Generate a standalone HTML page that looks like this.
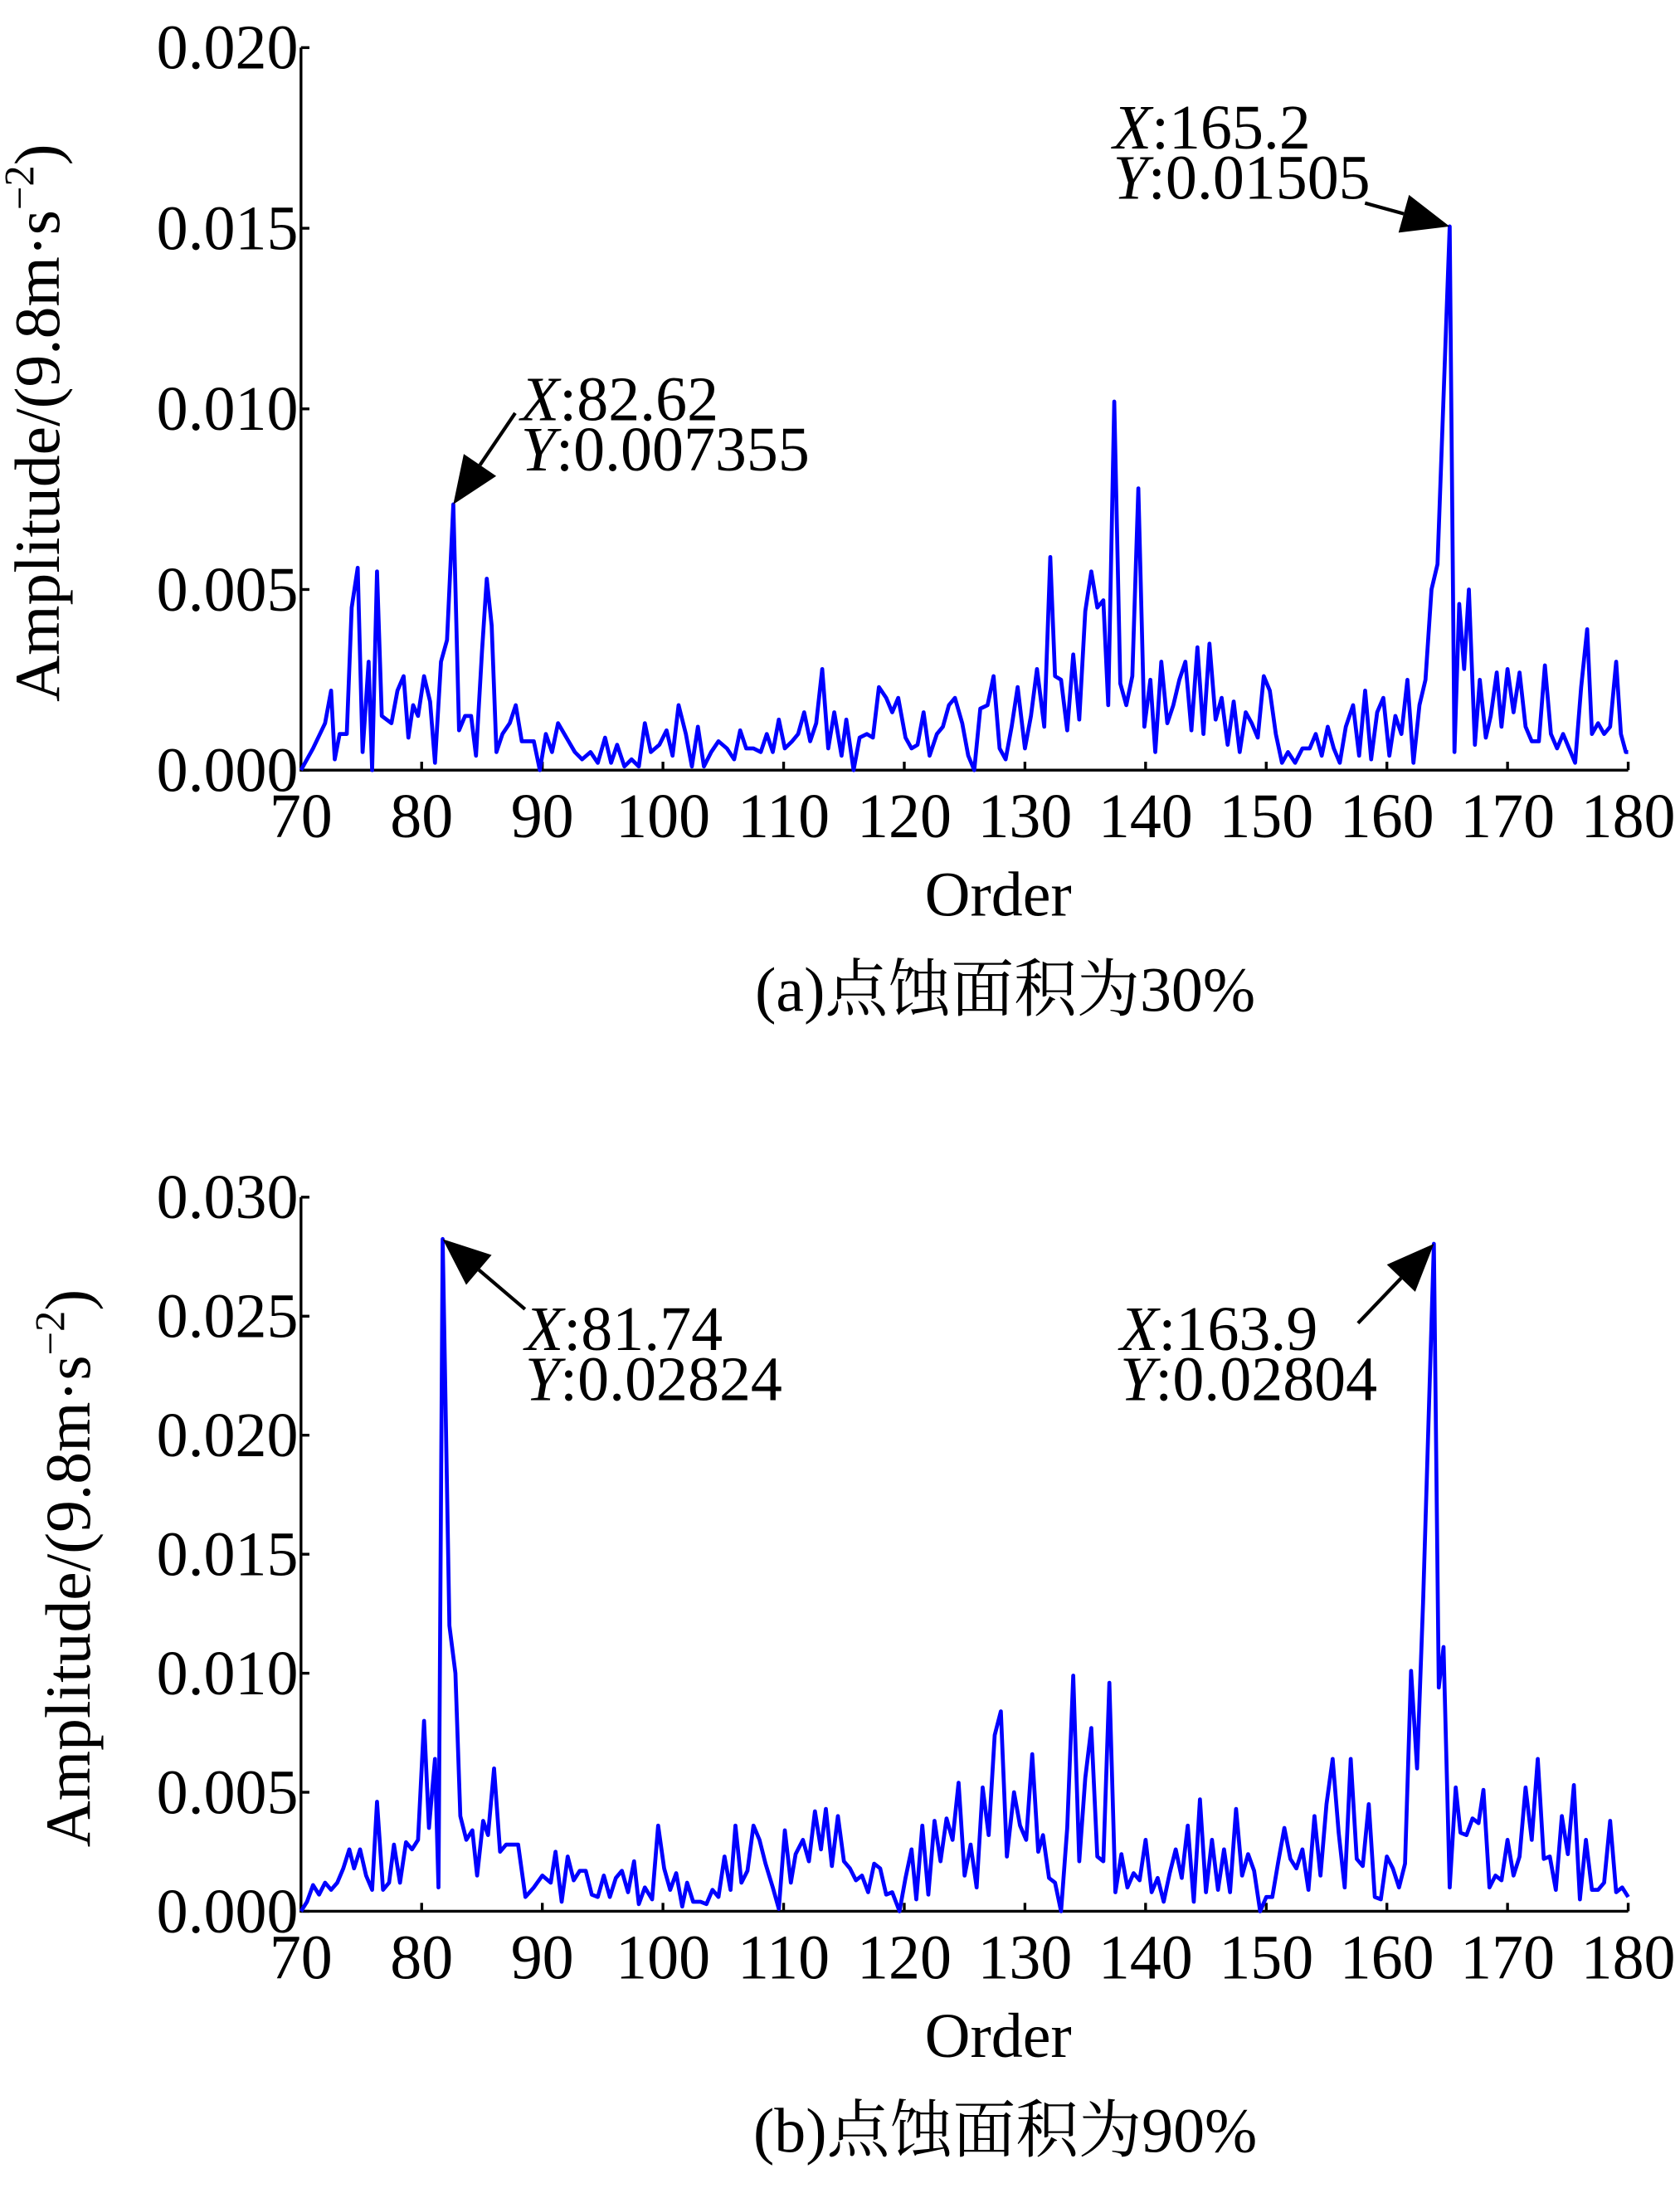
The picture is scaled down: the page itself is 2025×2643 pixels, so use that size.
<!DOCTYPE html>
<html><head><meta charset="utf-8"><style>
html,body{margin:0;padding:0;background:#fff;}
svg{display:block;}
text{font-family:"Liberation Serif","Noto Serif CJK SC",serif;fill:#000;}
</style></head><body>
<svg id="fig" width="2025" height="2643" viewBox="0 0 1200 1566.2" xmlns="http://www.w3.org/2000/svg"></svg>
<script>
// Panel (a) data (amplitude in units of 0.001)
const ordersA=[70,71,72,72.5,72.8,73.2,73.8,74.2,74.7,75.1,75.6,75.9,76.3,76.7,77.5,78,78.5,78.9,79.3,79.7,80.2,80.7,81.1,81.6,82.1,82.62,83.1,83.6,84.1,84.5,85,85.4,85.8,86.2,86.7,87.3,87.8,88.3,88.8,89.3,89.8,90.3,90.8,91.3,92,92.7,93.3,94,94.6,95.2,95.7,96.2,96.8,97.4,98,98.5,99,99.7,100.3,100.8,101.3,101.9,102.4,102.9,103.4,104,104.6,105.3,105.9,106.4,106.9,107.5,108.1,108.6,109.1,109.6,110.1,110.7,111.2,111.7,112.2,112.7,113.2,113.7,114.2,114.8,115.2,115.8,116.3,116.9,117.4,117.9,118.5,119,119.5,120.1,120.6,121.1,121.6,122.1,122.7,123.2,123.7,124.2,124.8,125.3,125.8,126.3,126.9,127.4,127.9,128.4,128.9,129.4,130,130.5,131,131.6,132.1,132.5,133,133.5,134,134.5,135,135.5,136,136.5,136.9,137.4,137.9,138.4,138.9,139.4,139.9,140.4,140.8,141.3,141.8,142.3,142.8,143.3,143.8,144.3,144.8,145.3,145.8,146.3,146.8,147.3,147.8,148.3,148.8,149.3,149.8,150.3,150.8,151.3,151.8,152.4,153,153.6,154.1,154.6,155.1,155.6,156.1,156.6,157.2,157.7,158.2,158.7,159.2,159.7,160.2,160.7,161.2,161.7,162.2,162.7,163.2,163.7,164.2,165.2,165.6,166,166.4,166.8,167.3,167.7,168.2,168.6,169.1,169.5,170,170.5,171,171.5,172,172.6,173.1,173.6,174.1,174.6,175.1,175.6,176.1,176.6,177,177.5,178,178.5,179,179.4,179.8,180];
const ampsA=[0,0.6,1.3,2.2,0.3,1.0,1.0,4.5,5.6,0.5,3.0,0,5.5,1.5,1.3,2.2,2.6,0.9,1.8,1.5,2.6,1.9,0.2,3.0,3.6,7.355,1.1,1.5,1.5,0.4,3.3,5.3,4.0,0.5,1.0,1.3,1.8,0.8,0.8,0.8,0,1.0,0.5,1.3,0.9,0.5,0.3,0.5,0.2,0.9,0.2,0.7,0.1,0.3,0.1,1.3,0.5,0.7,1.1,0.4,1.8,1.0,0.1,1.2,0.1,0.5,0.8,0.6,0.3,1.1,0.6,0.6,0.5,1.0,0.5,1.4,0.6,0.8,1.0,1.6,0.8,1.3,2.8,0.6,1.6,0.4,1.4,0,0.9,1.0,0.9,2.3,2.0,1.6,2.0,0.9,0.6,0.7,1.6,0.4,1.0,1.2,1.8,2.0,1.3,0.4,0,1.7,1.8,2.6,0.6,0.3,1.2,2.3,0.6,1.5,2.8,1.2,5.9,2.6,2.5,1.1,3.2,1.4,4.4,5.5,4.5,4.7,1.8,10.2,2.4,1.8,2.6,7.8,1.2,2.5,0.5,3.0,1.3,1.8,2.5,3.0,1.1,3.4,1.0,3.5,1.4,2.0,0.7,1.9,0.5,1.6,1.3,0.9,2.6,2.2,1.0,0.2,0.5,0.2,0.6,0.6,1.0,0.4,1.2,0.6,0.2,1.2,1.8,0.4,2.2,0.3,1.6,2.0,0.4,1.5,1.0,2.5,0.2,1.8,2.5,5.0,5.7,15.05,0.5,4.6,2.8,5.0,0.7,2.5,0.9,1.5,2.7,1.2,2.8,1.6,2.7,1.2,0.8,0.8,2.9,1.0,0.6,1.0,0.6,0.2,2.3,3.9,1.0,1.3,1.0,1.2,3.0,1.0,0.5,0.5];
// Panel (b) data
const ordersB=[70,70.5,71,71.5,72,72.5,73,73.5,74,74.4,74.9,75.4,75.9,76.3,76.8,77.3,77.7,78.2,78.7,79.2,79.7,80.2,80.6,81.1,81.4,81.74,82.3,82.8,83.2,83.7,84.2,84.6,85.1,85.5,86,86.5,87,87.5,88,88.6,89.3,90,90.7,91.1,91.6,92.1,92.6,93.1,93.6,94.1,94.6,95.1,95.6,96.1,96.6,97.1,97.6,98,98.5,99.1,99.6,100.1,100.6,101.1,101.6,102,102.5,103.1,103.6,104.1,104.6,105.1,105.6,106,106.5,107,107.5,108,108.5,109.1,109.6,110.1,110.6,111,111.6,112.1,112.6,113.1,113.5,114,114.5,115,115.5,116,116.5,117,117.5,118,118.5,119,119.6,120.1,120.6,121,121.5,122,122.5,123,123.5,124,124.5,125,125.5,126,126.5,127,127.5,128,128.5,129.1,129.6,130.1,130.6,131.1,131.5,132,132.5,133,133.5,134,134.5,135,135.5,136,136.5,137,137.5,138,138.5,139,139.5,140,140.5,141,141.5,142,142.5,143,143.5,144,144.5,145,145.5,146,146.5,147,147.5,148,148.5,149,149.5,150,150.5,151,151.5,152,152.5,153,153.5,154,154.5,155,155.5,156,156.5,157,157.5,158,158.5,159,159.5,160,160.5,161,161.5,162,162.5,163,163.9,164.3,164.7,165.2,165.7,166.1,166.6,167.1,167.6,168,168.5,169,169.5,170,170.5,171,171.5,172,172.5,173,173.5,174,174.5,175,175.5,176,176.5,177,177.5,178,178.5,179,179.5,180];
const ampsB=[0,0.4,1.1,0.7,1.2,0.9,1.2,1.8,2.6,1.8,2.6,1.5,0.9,4.6,0.9,1.2,2.8,1.2,2.9,2.6,3.0,8.0,3.5,6.4,1.0,28.24,12.0,10.0,4.0,3.0,3.4,1.5,3.8,3.2,6.0,2.5,2.8,2.8,2.8,0.6,1.0,1.5,1.2,2.5,0.4,2.3,1.3,1.7,1.7,0.7,0.6,1.5,0.6,1.4,1.7,0.8,2.1,0.3,1.0,0.5,3.6,1.8,0.9,1.6,0.2,1.2,0.4,0.4,0.3,0.9,0.6,2.3,0.9,3.6,1.2,1.7,3.6,3.0,2.0,1.0,0.1,3.4,1.2,2.4,3.0,2.1,4.2,2.6,4.3,1.9,4.0,2.1,1.8,1.3,1.5,0.8,2.0,1.8,0.7,0.8,0,1.4,2.6,0.5,3.6,0.7,3.8,2.1,3.9,3.0,5.4,1.5,2.8,1.0,5.2,3.2,7.4,8.4,2.3,5.0,3.6,3.0,6.6,2.5,3.2,1.4,1.2,0,3.5,9.9,2.1,5.6,7.7,2.3,2.1,9.6,0.8,2.4,1.0,1.6,1.3,3.0,0.8,1.4,0.4,1.6,2.6,1.4,3.6,0.4,4.7,0.8,3.0,0.9,2.6,0.8,4.3,1.5,2.4,1.7,0,0.6,0.6,2.1,3.5,2.2,1.8,2.6,0.9,4.0,1.5,4.5,6.4,3.3,1.0,6.4,2.2,1.9,4.5,0.6,0.5,2.3,1.8,1.0,2.0,10.1,6.0,13,28.04,9.4,11.1,1.0,5.2,3.3,3.2,3.9,3.7,5.1,1.0,1.5,1.3,3.0,1.5,2.3,5.2,3.0,6.4,2.2,2.3,0.9,4.0,2.4,5.3,0.5,3.0,0.9,0.9,1.2,3.8,0.8,1.0,0.6];
const xTicks=[70,80,90,100,110,120,130,140,150,160,170,180];
const yTicksA=[0,0.005,0.010,0.015,0.020];
const yTicksB=[0,0.005,0.010,0.015,0.020,0.025,0.030];

const NS="http://www.w3.org/2000/svg";
const svg=document.getElementById('fig');
function mk(tag,attrs,parent){const e=document.createElementNS(NS,tag);for(const k in attrs)e.setAttribute(k,attrs[k]);(parent||svg).appendChild(e);return e;}

function panel(id,orders,amps,yTicks,yMax,top,bottom,caption,annos,yTitleX){
  const g=mk('g',{});
  
  
  const L=215,R=1163;
  const sx=v=>L+(v-70)/(180-70)*(R-L);
  const sy=v=>bottom-v/yMax*(bottom-top);
  const ax=mk('path',{d:`M${L},${top} L${L},${bottom} L${R},${bottom}`,fill:'none',stroke:'#000','stroke-width':2},g);
  
  
  yTicks.forEach(t=>{
    const y=sy(t);
    mk('line',{x1:L,x2:L+6,y1:y,y2:y,stroke:'#000','stroke-width':2},g);
    const tx=mk('text',{x:L-2,y:y+15,'text-anchor':'end','font-size':45},g);
    tx.textContent=t.toFixed(3);
    
    
  });
  xTicks.forEach(t=>{
    const x=sx(t);
    mk('line',{x1:x,x2:x,y1:bottom,y2:bottom-6,stroke:'#000','stroke-width':2},g);
    const tx=mk('text',{x:x,y:bottom+48,'text-anchor':'middle','font-size':45},g);
    tx.textContent=t;
    
    
  });
  let d='';
  orders.forEach((o,i)=>{d+=(i?'L':'M')+sx(o).toFixed(1)+','+sy(amps[i]*0.001).toFixed(1);});
  const ln=mk('path',{d:d,fill:'none',stroke:'#0000ff','stroke-width':2.8,'stroke-linejoin':'round'},g);
  
  
  const xt=mk('text',{x:713,y:bottom+104,'text-anchor':'middle','font-size':45},g);
  xt.textContent='Order';
  
  
  const yc=(top+bottom)/2+10;
  const yt=mk('text',{x:0,y:0,'text-anchor':'middle','font-size':46,transform:`translate(${yTitleX},${yc}) rotate(-90)`},g);
  yt.innerHTML='Amplitude/(9.8m·s<tspan dy="-18" font-size="30">−2</tspan><tspan dy="18">)</tspan>';
  
  
  const cp=mk('text',{x:718,y:bottom+172,'text-anchor':'middle','font-size':45},g);
  cp.textContent=caption;
  
  
  annos.forEach(a=>{
    const px=sx(a.x),py=sy(a.y);
    const dx=px-a.ax,dy=py-a.ay,len=Math.hypot(dx,dy),ux=dx/len,uy=dy/len;
    const hl=34,hw=14;
    const bx=px-ux*hl,by=py-uy*hl;
    const ag=mk('g',{},g);
    
    
    mk('line',{x1:a.ax,y1:a.ay,x2:bx,y2:by,stroke:'#000','stroke-width':2.5},ag);
    mk('polygon',{points:`${px},${py} ${bx-uy*hw},${by+ux*hw} ${bx+uy*hw},${by-ux*hw}`,fill:'#000'},ag);
    const t1=mk('text',{x:a.tx,y:a.ty,'font-size':45},ag);
    t1.innerHTML='<tspan font-style="italic">X</tspan>:'+a.lx;
    const t2=mk('text',{x:a.tx,y:a.ty+36,'font-size':45},ag);
    t2.innerHTML='<tspan font-style="italic">Y</tspan>:'+a.ly;
  });
}
panel('a',ordersA,ampsA,yTicksA,0.020,34,550,'(a)点蚀面积为30%',[
  {x:82.62,y:0.007355,ax:368,ay:295,tx:372,ty:300,lx:'82.62',ly:'0.007355'},
  {x:165.2,y:0.01505,ax:975,ay:145,tx:795,ty:106,lx:'165.2',ly:'0.01505'}
],42);
panel('b',ordersB,ampsB,yTicksB,0.030,855,1365,'(b)点蚀面积为90%',[
  {x:81.74,y:0.02824,ax:375,ay:935,tx:375,ty:964,lx:'81.74',ly:'0.02824'},
  {x:163.9,y:0.02804,ax:970,ay:945,tx:800,ty:964,lx:'163.9',ly:'0.02804'}
],64);
</script>
</body></html>
